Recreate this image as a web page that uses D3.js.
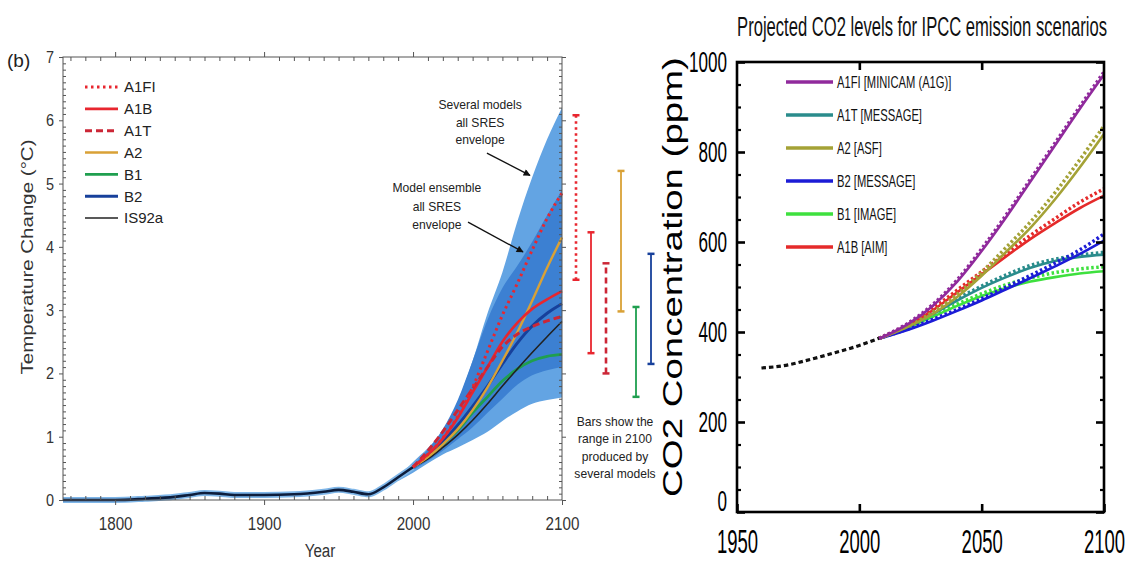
<!DOCTYPE html>
<html>
<head>
<meta charset="utf-8">
<title>IPCC projections</title>
<script src="https://d3js.org/d3.v7.min.js"></script>
<style>
  body { margin: 0; background: #fff; }
  svg { display: block; font-family: "Liberation Sans", Arial, Helvetica, sans-serif; }
</style>
</head>
<body>
<svg id="chart" width="1128" height="563"></svg>
<script>
// ---------- left panel: temperature change ----------
const histYears = [1765, 1780, 1800, 1820, 1840, 1850, 1860, 1870, 1880, 1900, 1920, 1940, 1950, 1960, 1970, 1980, 1990, 2000];
const histTemp  = [0, 0, 0, 0.02, 0.05, 0.08, 0.11, 0.1, 0.08, 0.08, 0.09, 0.13, 0.16, 0.13, 0.09, 0.2, 0.36, 0.52];

const projYears = [2000, 2010, 2020, 2030, 2040, 2050, 2060, 2070, 2080, 2090, 2100];
const projA1FI  = [0.52, 0.72, 0.98, 1.32, 1.78, 2.35, 2.92, 3.42, 3.95, 4.45, 4.85];
const projA1B   = [0.52, 0.72, 0.97, 1.3, 1.7, 2.1, 2.5, 2.8, 3.02, 3.17, 3.3];
const projA1T   = [0.52, 0.78, 1.08, 1.42, 1.76, 2.1, 2.42, 2.62, 2.74, 2.83, 2.9];
const projA2    = [0.52, 0.68, 0.88, 1.12, 1.42, 1.78, 2.2, 2.65, 3.15, 3.67, 4.15];
const projB1    = [0.52, 0.68, 0.88, 1.1, 1.38, 1.63, 1.88, 2.07, 2.2, 2.27, 2.3];
const projB2    = [0.52, 0.7, 0.92, 1.18, 1.48, 1.8, 2.15, 2.48, 2.75, 2.95, 3.1];
const projIS92a = [0.52, 0.65, 0.83, 1.03, 1.26, 1.52, 1.8, 2.07, 2.33, 2.58, 2.82];

const envYears   = [1990, 2000, 2010, 2020, 2030, 2040, 2050, 2060, 2070, 2080, 2090, 2100];
const outerHigh  = [0.36, 0.6, 0.82, 1.1, 1.55, 2.2, 2.95, 3.6, 4.4, 5.1, 5.7, 6.2];
const outerLow   = [0.3, 0.43, 0.58, 0.72, 0.83, 0.95, 1.08, 1.25, 1.4, 1.52, 1.58, 1.62];
const innerHigh  = [0.34, 0.55, 0.8, 1.12, 1.58, 2.2, 2.85, 3.35, 3.7, 4.08, 4.5, 4.9];
const innerLow   = [0.32, 0.47, 0.62, 0.78, 0.96, 1.15, 1.38, 1.6, 1.82, 1.97, 2.05, 2.1];

const barNames = ["A1FI", "A1B", "A1T", "A2", "B1", "B2"];
const barLow   = [3.48, 2.32, 2.0, 2.98, 1.63, 2.15];
const barHigh  = [6.08, 4.23, 3.74, 5.2, 3.05, 3.89];

const legendLeft = ["A1FI", "A1B", "A1T", "A2", "B1", "B2", "IS92a"];

// ---------- right panel: CO2 ----------
const co2HistYears = [1960, 1970, 1980, 1990, 2000, 2008];
const co2Hist      = [320, 326, 339, 354, 370, 386];

const co2Years   = [2008, 2020, 2030, 2040, 2050, 2060, 2070, 2080, 2090, 2100];
const co2A1FI    = [385, 418, 458, 512, 580, 655, 735, 815, 895, 972];
const co2A1FIdot = [386, 420, 461, 516, 585, 660, 740, 820, 900, 978];
const co2A2      = [385, 412, 440, 478, 525, 578, 632, 695, 765, 840];
const co2A2dot   = [386, 414, 444, 484, 533, 588, 645, 710, 782, 858];
const co2A1B     = [385, 415, 448, 488, 528, 568, 607, 642, 675, 703];
const co2A1Bdot  = [386, 417, 452, 493, 534, 575, 615, 652, 688, 718];
const co2B2      = [385, 405, 425, 447, 470, 495, 520, 546, 573, 603];
const co2B2dot   = [386, 407, 428, 450, 474, 500, 526, 553, 582, 618];
const co2A1T     = [385, 412, 440, 470, 498, 522, 543, 558, 567, 572];
const co2A1Tdot  = [386, 414, 443, 474, 502, 527, 548, 562, 571, 577];
const co2B1      = [385, 410, 434, 458, 480, 498, 512, 522, 530, 535];
const co2B1dot   = [386, 412, 437, 462, 485, 505, 520, 532, 540, 545];

const legendRight = ["A1FI [MINICAM (A1G)]", "A1T [MESSAGE]", "A2 [ASF]", "B2 [MESSAGE]", "B1 [IMAGE]", "A1B [AIM]"];

// ---------- styles ----------
const tStyle = {
  A1FI:  { color: "#e8262f", dash: "2.5,3.5", width: 3 },
  A1B:   { color: "#e8262f", dash: null, width: 2.6 },
  A1T:   { color: "#cc2636", dash: "7,4", width: 3 },
  A2:    { color: "#d9a136", dash: null, width: 2.4 },
  B1:    { color: "#1f9f4f", dash: null, width: 2.8 },
  B2:    { color: "#17409b", dash: null, width: 3 },
  IS92a: { color: "#222222", dash: null, width: 1.6 }
};
const cColor = { A1FI: "#902a9c", A1T: "#2a8c8c", A2: "#a4a236", B2: "#1c1cd6", B1: "#3ee03e", A1B: "#e52a2a" };
const fmt = d3.format("d");

const svg = d3.select("#chart");

// squeeze a text horizontally with a scale transform (keeps its anchor point)
function fitText(sel, f) {
  sel.each(function () {
    const el = d3.select(this);
    const x = +el.attr("x") || 0;
    el.attr("x", x / f).attr("transform", (el.attr("transform") || "") + ` scale(${f},1)`);
  });
}
function squeeze(sel, f) {
  sel.each(function () {
    const w = this.getComputedTextLength();
    d3.select(this).attr("textLength", w * f).attr("lengthAdjust", "spacingAndGlyphs");
  });
}

// =====================================================================
// LEFT PANEL
// =====================================================================
const xL = d3.scaleLinear([1765, 2100], [63, 562]);
const yL = d3.scaleLinear([0, 7], [500, 57]);
const gL = svg.append("g");

const zip = (xs, ys) => xs.map((x, i) => [x, ys[i]]);
const envData = (hi, lo) => envYears.map((yr, i) => ({ year: yr, hi: hi[i], lo: lo[i] }));

const area = d3.area()
  .x(d => xL(d.year)).y0(d => yL(d.lo)).y1(d => yL(d.hi))
  .curve(d3.curveMonotoneX);

gL.append("path").datum(envData(outerHigh, outerLow)).attr("d", area).attr("fill", "#63a4e3");
gL.append("path").datum(envData(innerHigh, innerLow)).attr("d", area).attr("fill", "#3c80d2");

const lineL = d3.line().x(d => xL(d[0])).y(d => yL(d[1])).curve(d3.curveMonotoneX);

// historical
gL.append("path").datum(zip(histYears, histTemp)).attr("d", lineL)
  .attr("fill", "none").attr("stroke", "#7fb6e8").attr("stroke-width", 6);
gL.append("path").datum(zip(histYears, histTemp)).attr("d", lineL)
  .attr("fill", "none").attr("stroke", "#0d1d3c").attr("stroke-width", 2.6);

const projSeries = [
  { name: "B1", values: projB1 },
  { name: "IS92a", values: projIS92a },
  { name: "B2", values: projB2 },
  { name: "A2", values: projA2 },
  { name: "A1B", values: projA1B },
  { name: "A1T", values: projA1T },
  { name: "A1FI", values: projA1FI }
];
gL.append("g").selectAll("path").data(projSeries).join("path")
  .attr("d", s => lineL(zip(projYears, s.values)))
  .attr("fill", "none")
  .attr("stroke", s => tStyle[s.name].color)
  .attr("stroke-width", s => tStyle[s.name].width)
  .attr("stroke-dasharray", s => tStyle[s.name].dash);

// axes
const yMinor = d3.range(1, 70).filter(i => i % 10).map(i => i / 10);
const xMinor = d3.range(1770, 2100, 10).filter(v => v % 100);
function styleAxis(g, color) {
  g.select(".domain").remove();
  g.selectAll("line").attr("stroke", color);
  g.attr("font-family", null);
  return g;
}
const x0 = xL.range()[0], x1 = xL.range()[1], y0 = yL.range()[0], y1 = yL.range()[1];

styleAxis(gL.append("g").attr("transform", `translate(${x0},0)`)
  .call(d3.axisLeft(yL).tickValues(yMinor).tickSize(-3).tickFormat("")), "#555");
const yAxL = styleAxis(gL.append("g").attr("transform", `translate(${x0},0)`)
  .call(d3.axisLeft(yL).ticks(7).tickFormat(fmt).tickSize(4).tickPadding(5)), "#555");
yAxL.attr("font-size", 17).selectAll("text").attr("fill", "#333");
fitText(yAxL.selectAll("text"), 0.85);

styleAxis(gL.append("g").attr("transform", `translate(${x1},0)`)
  .call(d3.axisRight(yL).tickValues(yMinor).tickSize(-3).tickFormat("")), "#555");
styleAxis(gL.append("g").attr("transform", `translate(${x1},0)`)
  .call(d3.axisRight(yL).ticks(7).tickSize(4).tickFormat("")), "#555");

styleAxis(gL.append("g").attr("transform", `translate(0,${y0})`)
  .call(d3.axisBottom(xL).tickValues(xMinor).tickSize(-4).tickFormat("")), "#555");
const xAxL = styleAxis(gL.append("g").attr("transform", `translate(0,${y0})`)
  .call(d3.axisBottom(xL).tickValues([1800, 1900, 2000, 2100]).tickFormat(fmt).tickSize(5).tickPadding(12)), "#555");
xAxL.attr("font-size", 19).selectAll("text").attr("fill", "#333");
fitText(xAxL.selectAll("text"), 0.8);

styleAxis(gL.append("g").attr("transform", `translate(0,${y1})`)
  .call(d3.axisTop(xL).tickValues(xMinor).tickSize(-4).tickFormat("")), "#555");
styleAxis(gL.append("g").attr("transform", `translate(0,${y1})`)
  .call(d3.axisTop(xL).tickValues([1800, 1900, 2000]).tickSize(5).tickFormat("")), "#555");

gL.append("rect").attr("x", x0).attr("y", y1).attr("width", x1 - x0).attr("height", y0 - y1)
  .attr("fill", "none").attr("stroke", "#555").attr("stroke-width", 1);

// range bars in 2100
const xBar = d3.scalePoint(barNames, [576, 651]);
const bars = gL.append("g").selectAll("g").data(barNames).join("g");
bars.append("line")
  .attr("x1", d => xBar(d)).attr("x2", d => xBar(d))
  .attr("y1", (d, i) => yL(barLow[i])).attr("y2", (d, i) => yL(barHigh[i]))
  .attr("stroke", d => tStyle[d].color)
  .attr("stroke-width", d => d === "A1FI" || d === "A1T" ? 2.6 : 1.8)
  .attr("stroke-dasharray", d => d === "A1FI" ? "2.5,3.5" : d === "A1T" ? "6,4" : null);
[barLow, barHigh].forEach(arr => {
  bars.append("line")
    .attr("x1", d => xBar(d) - 3.5).attr("x2", d => xBar(d) + 3.5)
    .attr("y1", (d, i) => yL(arr[i])).attr("y2", (d, i) => yL(arr[i]))
    .attr("stroke", d => tStyle[d].color).attr("stroke-width", 2.5);
});

// legend
const yLegL = d3.scalePoint(legendLeft, [87, 218]);
const legL = gL.append("g").selectAll("g").data(legendLeft).join("g")
  .attr("transform", d => `translate(85,${yLegL(d)})`);
legL.append("line").attr("x1", 0).attr("x2", 33)
  .attr("stroke", d => tStyle[d].color)
  .attr("stroke-width", d => tStyle[d].width)
  .attr("stroke-dasharray", d => tStyle[d].dash);
legL.append("text").attr("x", 39).attr("dy", "0.36em")
  .attr("font-size", 15).attr("fill", "#222").text(d => d);

// annotations
svg.append("defs").append("marker").attr("id", "arrow")
  .attr("viewBox", "0 0 10 10").attr("refX", 9).attr("refY", 5)
  .attr("markerWidth", 9).attr("markerHeight", 7).attr("orient", "auto")
  .attr("markerUnits", "userSpaceOnUse")
  .append("path").attr("d", "M0,0L10,5L0,10z").attr("fill", "#111");

function note(lines, year, temp, spacing) {
  const t = gL.append("text").attr("text-anchor", "middle").attr("font-size", 13).attr("fill", "#222");
  lines.forEach((s, i) => {
    t.append("tspan").attr("x", xL(year)).attr("y", yL(temp) + 4 + i * spacing).text(s);
  });
  squeeze(t.selectAll("tspan"), 0.93);
}
note(["Several models", "all SRES", "envelope"], 2045, 6.24, 17.5);
note(["Model ensemble", "all SRES", "envelope"], 2016, 4.93, 18.5);
note(["Bars show the", "range in 2100", "produced by", "several models"], 2135.6, 1.23, 17.3);

function arrow(ya, ta, yb, tb) {
  gL.append("line").attr("x1", xL(ya)).attr("y1", yL(ta)).attr("x2", xL(yb)).attr("y2", yL(tb))
    .attr("stroke", "#111").attr("stroke-width", 1.3).attr("marker-end", "url(#arrow)");
}
arrow(2049.6, 5.48, 2078.5, 5.13);
arrow(2036.9, 4.39, 2073.8, 3.92);

gL.append("text").attr("x", 7).attr("y", 67).attr("font-size", 19).attr("fill", "#222").text("(b)");
const yTitleL = gL.append("text").attr("transform", "translate(33,257) rotate(-90)")
  .attr("text-anchor", "middle").attr("font-size", 17).attr("fill", "#333")
  .text("Temperature Change (°C)");
fitText(yTitleL, 235 / yTitleL.node().getComputedTextLength());
const xTitleL = gL.append("text").attr("x", 320).attr("y", 557).attr("text-anchor", "middle")
  .attr("font-size", 19).attr("fill", "#333").text("Year");
fitText(xTitleL, 0.8);

// =====================================================================
// RIGHT PANEL
// =====================================================================
const xR = d3.scaleLinear([1950, 2100], [737, 1104]);
const yR = d3.scaleLinear([0, 1000], [512, 62]);
const gR = svg.append("g");
const lineR = d3.line().x(d => xR(d[0])).y(d => yR(d[1])).curve(d3.curveMonotoneX);

const co2Series = [
  { name: "B1", solid: co2B1, dots: co2B1dot },
  { name: "A1T", solid: co2A1T, dots: co2A1Tdot },
  { name: "B2", solid: co2B2, dots: co2B2dot },
  { name: "A1B", solid: co2A1B, dots: co2A1Bdot },
  { name: "A2", solid: co2A2, dots: co2A2dot },
  { name: "A1FI", solid: co2A1FI, dots: co2A1FIdot }
];
const cs = gR.append("g").selectAll("g").data(co2Series).join("g");
cs.append("path").attr("d", s => lineR(zip(co2Years, s.dots)))
  .attr("fill", "none").attr("stroke", s => cColor[s.name])
  .attr("stroke-width", 3.5).attr("stroke-dasharray", "2.5,2.5");
cs.append("path").attr("d", s => lineR(zip(co2Years, s.solid)))
  .attr("fill", "none").attr("stroke", s => cColor[s.name]).attr("stroke-width", 2.6);

gR.append("path").datum(zip(co2HistYears, co2Hist)).attr("d", lineR)
  .attr("fill", "none").attr("stroke", "#111").attr("stroke-width", 3.2)
  .attr("stroke-dasharray", "4.5,3");

// axes
const rx0 = xR.range()[0], rx1 = xR.range()[1], ry0 = yR.range()[0], ry1 = yR.range()[1];
const yMajR = d3.range(0, 1001, 200);
const yMinR = d3.range(50, 1000, 50).filter(v => v % 200);
function thick(g, w) { g.selectAll("line").attr("stroke-width", w); return g; }

thick(styleAxis(gR.append("g").attr("transform", `translate(${rx0},0)`)
  .call(d3.axisLeft(yR).tickValues(yMinR).tickSize(-4).tickFormat("")), "#000"), 2.2);
const yAxR = thick(styleAxis(gR.append("g").attr("transform", `translate(${rx0},0)`)
  .call(d3.axisLeft(yR).tickValues(yMajR).tickFormat(fmt).tickSize(-8).tickPadding(10)), "#000"), 2.6);
yAxR.attr("font-size", 30).selectAll("text").attr("fill", "#000");
yAxR.selectAll("text").filter(d => d === 0).attr("dy", "-0.05em");
fitText(yAxR.selectAll("text"), 0.57);

thick(styleAxis(gR.append("g").attr("transform", `translate(${rx1},0)`)
  .call(d3.axisRight(yR).tickValues(yMinR).tickSize(-4).tickFormat("")), "#000"), 2.2);
thick(styleAxis(gR.append("g").attr("transform", `translate(${rx1},0)`)
  .call(d3.axisRight(yR).tickValues(yMajR).tickSize(-8).tickFormat("")), "#000"), 2.6);

thick(styleAxis(gR.append("g").attr("transform", `translate(0,${ry1})`)
  .call(d3.axisTop(xR).tickValues([2000, 2050]).tickSize(-8).tickFormat("")), "#000"), 2.6);
const xAxR = thick(styleAxis(gR.append("g").attr("transform", `translate(0,${ry0})`)
  .call(d3.axisBottom(xR).tickValues([1950, 2000, 2050, 2100]).tickFormat(fmt).tickSize(-8).tickPadding(18)), "#000"), 2.6);
xAxR.attr("font-size", 33).selectAll("text").attr("fill", "#000");
fitText(xAxR.selectAll("text"), 0.56);

gR.append("rect").attr("x", rx0).attr("y", ry1).attr("width", rx1 - rx0).attr("height", ry0 - ry1)
  .attr("fill", "none").attr("stroke", "#000").attr("stroke-width", 2.6);

// legend
const legKey = s => s.split(" ")[0];
const yLegR = d3.scalePoint(legendRight, [82, 247]);
const legR = gR.append("g").selectAll("g").data(legendRight).join("g")
  .attr("transform", d => `translate(786,${yLegR(d)})`);
legR.append("line").attr("x1", 0).attr("x2", 47)
  .attr("stroke", d => cColor[legKey(d)]).attr("stroke-width", 3.6);
const legRText = legR.append("text").attr("x", 51).attr("dy", "0.36em")
  .attr("font-size", 16).attr("fill", "#111").text(d => d);
fitText(legRText, 0.7);

const titleR = gR.append("text").attr("transform", "translate(922,36)").attr("text-anchor", "middle")
  .attr("font-size", 27).attr("fill", "#111")
  .text("Projected CO2 levels for IPCC emission scenarios");
fitText(titleR, 370 / titleR.node().getComputedTextLength());

const yTitleR = gR.append("text").attr("transform", "translate(682,277) rotate(-90)")
  .attr("text-anchor", "middle").attr("font-size", 28).attr("fill", "#000")
  .text("CO2 Concentration (ppm)");
fitText(yTitleR, 440 / yTitleR.node().getComputedTextLength());
</script>
</body>
</html>
